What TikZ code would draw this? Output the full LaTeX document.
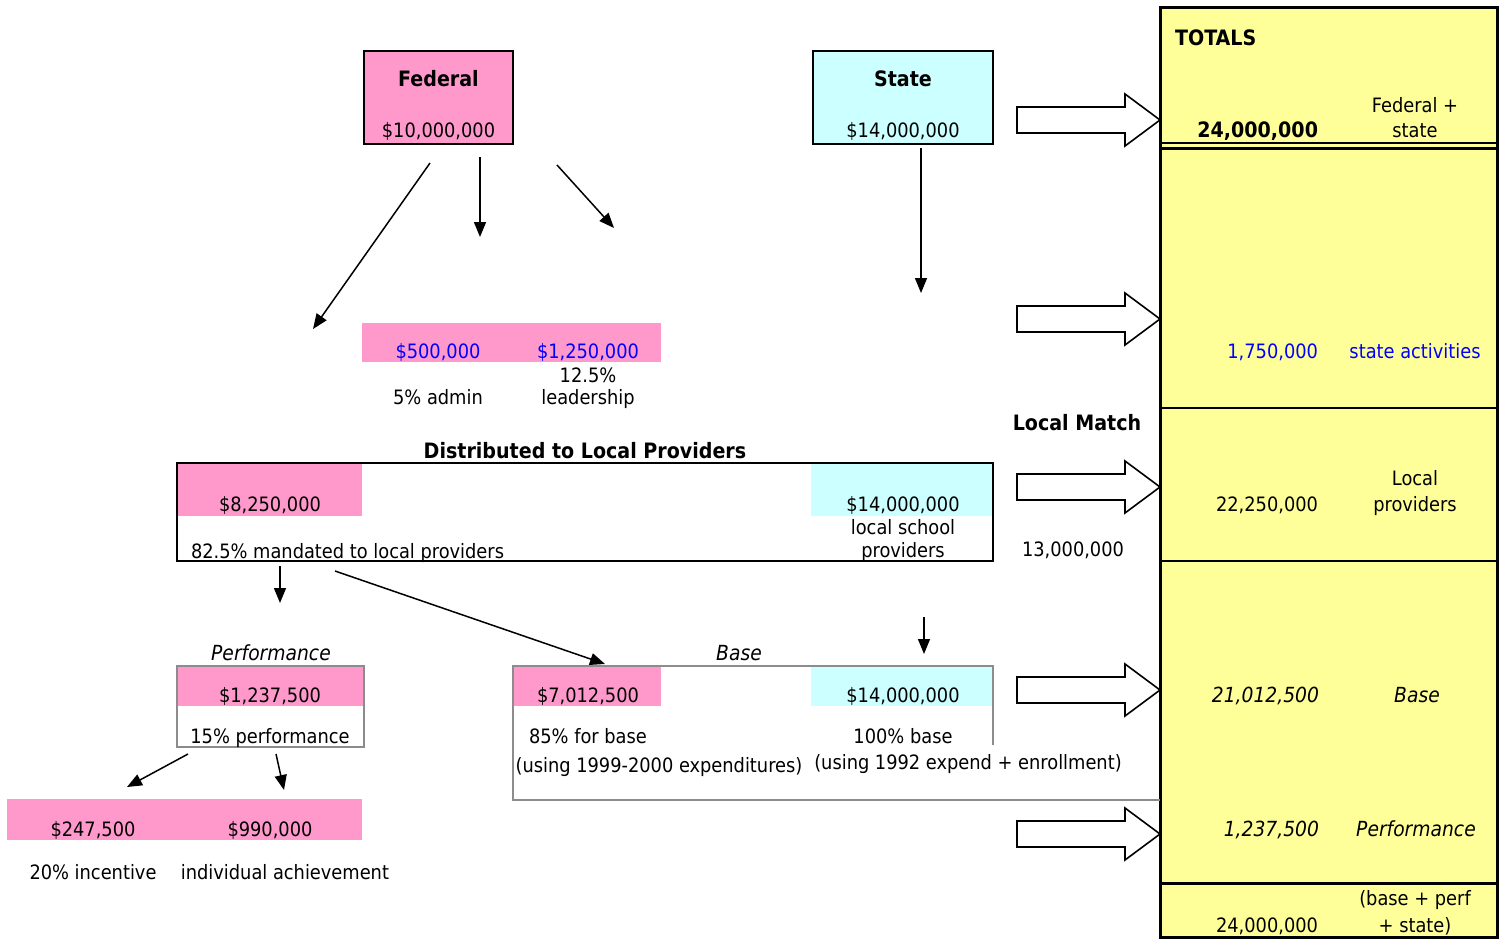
\documentclass[tikz,border=0pt]{standalone}
\usepackage{fontspec}
\setmainfont{DejaVu Sans Condensed}
\usetikzlibrary{arrows.meta}
\definecolor{fpink}{HTML}{FF99CC}
\definecolor{fcyan}{HTML}{CCFFFF}
\definecolor{fyellow}{HTML}{FFFF99}
\definecolor{fblue}{HTML}{0000FF}
\definecolor{fgray}{HTML}{8C8C8C}
\tikzset{
  cell/.style={inner sep=0pt, outer sep=0pt, draw=none},
  pinkcell/.style={cell, fill=fpink},
  cyancell/.style={cell, fill=fcyan},
  blackbox/.style={cell, draw=black, line width=2pt},
  graybox/.style={cell, draw=fgray, line width=1.6pt},
  txt/.style={inner sep=0pt, outer sep=0pt, anchor=base, font=\fontsize{19.8}{23}\selectfont},
  rtxt/.style={txt, anchor=base east},
  ltxt/.style={txt, anchor=base west},
  bftxt/.style={font=\fontsize{21.2}{25}\selectfont\bfseries},
  ittxt/.style={font=\fontsize{20.8}{24}\selectfont\itshape},
  bl/.style={text=fblue},
  conn/.style={line width=1.5pt, -{Triangle[length=15pt,width=12pt]}},
  bigarrow/.pic={\draw[line width=1.6pt, fill=white, line join=miter]
     (0,-13)--(108,-13)--(108,-26)--(143,0)--(108,26)--(108,13)--(0,13)--cycle;}
}
\begin{document}
\begin{tikzpicture}[x=1pt,y=-1pt]
\useasboundingbox (0,0) rectangle (1504,939);
% ---------- Totals panel
\node[cell, fill=fyellow, draw=black, line width=3pt, minimum width=337pt, minimum height=929pt] (tot) at (1328.5,472.5) {};
\draw[line width=2pt] (1160,143) -- (1497,143);
\draw[line width=2pt] (1160,148.5) -- (1497,148.5);
\draw[line width=2pt] (1160,408) -- (1497,408);
\draw[line width=2pt] (1160,561) -- (1497,561);
\draw[line width=3pt] (1160,883) -- (1497,883);
\node[ltxt, bftxt] (totals) at (1175,46) {TOTALS};
\node[rtxt, bftxt] (t1) at (1318,138) {24,000,000};
\node[txt] (t1a) at (1415,113) {Federal +};
\node[txt] (t1b) at (1415,138) {state};
\node[rtxt, bl] (t2) at (1318,358) {1,750,000};
\node[txt, bl] (t2a) at (1415,358) {state activities};
\node[rtxt] (t3) at (1318,511) {22,250,000};
\node[txt] (t3a) at (1415,485) {Local};
\node[txt] (t3b) at (1415,511) {providers};
\node[rtxt, ittxt] (t4) at (1319,702) {21,012,500};
\node[txt, ittxt] (t4a) at (1417,702) {Base};
\node[rtxt, ittxt] (t5) at (1319,836) {1,237,500};
\node[txt, ittxt] (t5a) at (1416,836) {Performance};
\node[rtxt] (t6) at (1318,932) {24,000,000};
\node[txt] (t6a) at (1415,905) {(base + perf};
\node[txt] (t6b) at (1415,932) {+ state)};
% ---------- hollow arrows
\pic at (1017,120) {bigarrow};
\pic at (1017,319) {bigarrow};
\pic at (1017,487) {bigarrow};
\pic at (1017,690) {bigarrow};
\pic at (1017,834) {bigarrow};
% ---------- Federal / State
\node[blackbox, fill=fpink, minimum width=149pt, minimum height=93pt] (fed) at (438.5,97.5) {};
\node[txt, bftxt] (fedt) at (438.5,87) {Federal};
\node[txt] (fedv) at (438.5,138) {\$10,000,000};
\node[blackbox, fill=fcyan, minimum width=180pt, minimum height=93pt] (state) at (903,97.5) {};
\node[txt, bftxt] (statet) at (903,87) {State};
\node[txt] (statev) at (903,138) {\$14,000,000};
% ---------- admin / leadership
\node[pinkcell, minimum width=299pt, minimum height=39pt] (adminband) at (511.5,342.5) {};
\node[txt, bl] (admv) at (438,358) {\$500,000};
\node[txt, bl] (leadv) at (588,358) {\$1,250,000};
\node[txt] (leada) at (588,382) {12.5\%};
\node[txt] (leadb) at (588,404) {leadership};
\node[txt] (adml) at (438,404) {5\% admin};
% ---------- Distributed
\node[txt, bftxt] (distt) at (585,458) {Distributed to Local Providers};
\node[pinkcell, minimum width=185pt, minimum height=53pt] (distp) at (269.5,489.5) {};
\node[cyancell, minimum width=182pt, minimum height=53pt] (distc) at (902,489.5) {};
\node[blackbox, minimum width=816pt, minimum height=98pt] (dist) at (585,512) {};
\node[txt] (distpv) at (270,511) {\$8,250,000};
\node[ltxt] (distpl) at (191,558) {82.5\% mandated to local providers};
\node[txt] (distcv) at (903,511) {\$14,000,000};
\node[txt] (distca) at (903,534) {local school};
\node[txt] (distcb) at (903,557) {providers};
\node[txt, bftxt] (lm) at (1077,430) {Local Match};
\node[txt] (lmv) at (1073,556) {13,000,000};
% ---------- Performance
\node[txt, ittxt] (perft) at (271,660) {Performance};
\node[pinkcell, minimum width=187pt, minimum height=40pt] (perfp) at (270.5,686) {};
\node[graybox, minimum width=187pt, minimum height=81pt] (perf) at (270.5,706.5) {};
\node[txt] (perfv) at (270,702) {\$1,237,500};
\node[txt] (perfl) at (270,743) {15\% performance};
\node[pinkcell, minimum width=355pt, minimum height=41pt] (incband) at (184.5,819.5) {};
\node[txt] (incv) at (93,836) {\$247,500};
\node[txt] (indv) at (270,836) {\$990,000};
\node[txt] (incl) at (93,879) {20\% incentive};
\node[txt] (indl) at (285,879) {individual achievement};
% ---------- Base
\node[txt, ittxt] (baset) at (739,660) {Base};
\node[pinkcell, minimum width=148pt, minimum height=40pt] (basep) at (587,686) {};
\node[cyancell, minimum width=182pt, minimum height=40pt] (basec) at (902,686) {};
\draw[fgray, line width=1.6pt] (993,745) -- (993,666) -- (513,666) -- (513,800) -- (1160,800);
\node[txt] (basepv) at (588,702) {\$7,012,500};
\node[txt] (basecv) at (903,702) {\$14,000,000};
\node[txt] (basepl) at (588,743) {85\% for base};
\node[txt] (basepm) at (659,772) {(using 1999-2000 expenditures)};
\node[txt] (basecl) at (903,743) {100\% base};
\node[txt] (basecm) at (968,769) {(using 1992 expend + enrollment)};
% ---------- connectors
\coordinate (f1s) at (430,163); \coordinate (f1e) at (313,329);
\coordinate (f2s) at (480,157); \coordinate (f2e) at (480,237);
\coordinate (f3s) at (557,165); \coordinate (f3e) at (614,228);
\coordinate (s1s) at (921,148); \coordinate (s1e) at (921,293);
\coordinate (d1s) at (280,566); \coordinate (d1e) at (280,603);
\coordinate (d2s) at (335,571); \coordinate (d2e) at (605,664);
\coordinate (s2s) at (924,617); \coordinate (s2e) at (924,654);
\coordinate (p1s) at (188,754); \coordinate (p1e) at (127,787);
\coordinate (p2s) at (276,754); \coordinate (p2e) at (284,790);
\draw[conn] (f1s) -- (f1e);
\draw[conn] (f2s) -- (f2e);
\draw[conn] (f3s) -- (f3e);
\draw[conn] (s1s) -- (s1e);
\draw[conn] (d1s) -- (d1e);
\draw[conn] (d2s) -- (d2e);
\draw[conn] (s2s) -- (s2e);
\draw[conn] (p1s) -- (p1e);
\draw[conn] (p2s) -- (p2e);
\end{tikzpicture}
\end{document}
